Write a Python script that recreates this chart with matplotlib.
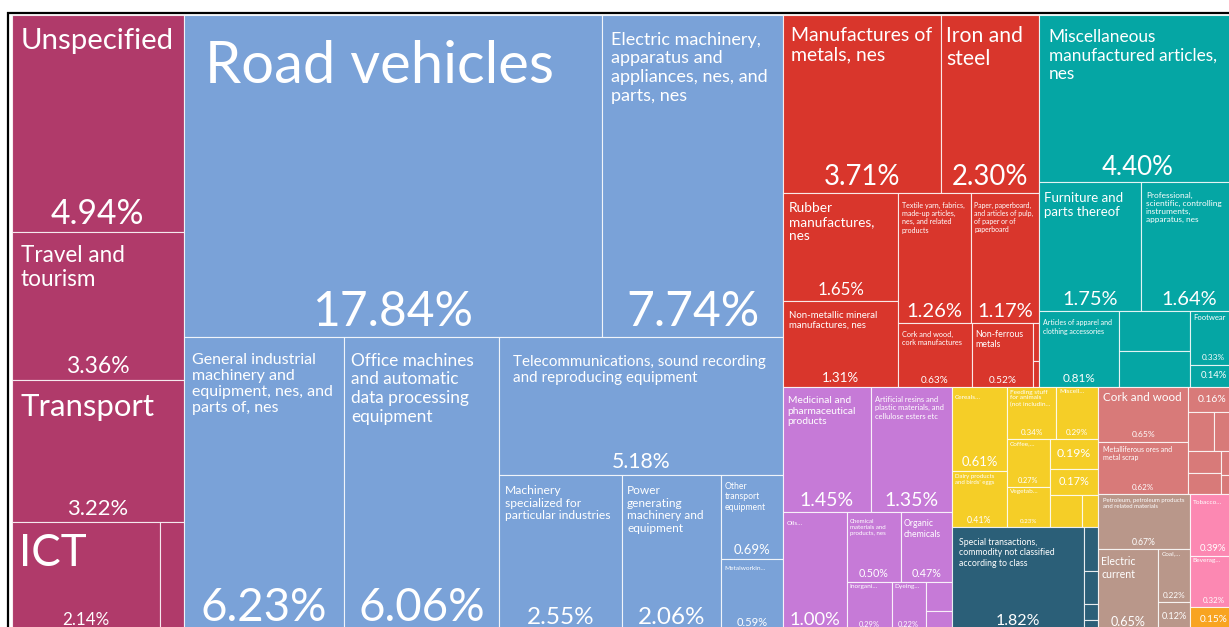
import matplotlib
matplotlib.use("Agg")
import matplotlib.pyplot as plt
from matplotlib.patches import Rectangle
from matplotlib.font_manager import FontProperties

# ---------------------
# data (share of exports, %), in display order
# None = cell drawn without any text, "" = cell shows only the share
# ---------------------
services_names = ["Unspecified", "Travel and tourism", "Transport", "ICT", None]
services_values = [4.94, 3.36, 3.22, 2.14, 0.35]

machinery_names = ["Road vehicles",
                   "Electric machinery, apparatus and appliances, nes, and parts, nes",
                   "General industrial machinery and equipment, nes, and parts of, nes",
                   "Office machines and automatic data processing equipment",
                   "Telecommunications, sound recording and reproducing equipment",
                   "Machinery specialized for particular industries",
                   "Power generating machinery and equipment",
                   "Other transport equipment",
                   "Metalworkin…"]
machinery_values = [17.84, 7.74, 6.23, 6.06, 5.18, 2.55, 2.06, 0.69, 0.59]

manuf_names = ["Manufactures of metals, nes", "Iron and steel", "Rubber manufactures, nes",
               "Non-metallic mineral manufactures, nes",
               "Textile yarn, fabrics, made-up articles, nes, and related products",
               "Paper, paperboard, and articles of pulp, of paper or of paperboard",
               "Cork and wood, cork manufactures", "Non-ferrous metals", None, None]
manuf_values = [3.71, 2.30, 1.65, 1.31, 1.26, 1.17, 0.63, 0.52, 0.03, 0.02]

misc_names = ["Miscellaneous manufactured articles, nes", "Furniture and parts thereof",
              "Professional, scientific, controlling instruments, apparatus, nes",
              "Articles of apparel and clothing accessories", None, None, "Footwear", ""]
misc_values = [4.40, 1.75, 1.64, 0.81, 0.37, 0.34, 0.33, 0.14]

chem_names = ["Medicinal and pharmaceutical products",
              "Artificial resins and plastic materials, and cellulose esters etc",
              "Oils…", "Chemical materials and products, nes", "Organic chemicals",
              "Inorgani…", "Dyeing…", None, None]
chem_values = [1.45, 1.35, 1.00, 0.50, 0.47, 0.29, 0.22, 0.10, 0.07]

food_names = ["Cereals…", "Dairy products and birds' eggs",
              "Feeding stuff for animals (not includin…", "Miscell…", "Coffee,…",
              "Vegetab…", "", "", None, None]
food_values = [0.61, 0.41, 0.34, 0.29, 0.27, 0.23, 0.19, 0.17, 0.14, 0.07]

special_names = ["Special transactions, commodity not classified according to class",
                 None, None, None, None]
special_values = [1.82, 0.08, 0.06, 0.03, 0.02]

crude_names = ["Cork and wood", "Metalliferous ores and metal scrap", "",
               None, None, None, None, None, None]
crude_values = [0.65, 0.62, 0.16, 0.13, 0.12, 0.10, 0.09, 0.05, 0.04]

fuel_names = ["Petroleum, petroleum products and related materials", "Electric current",
              "Coal,…", ""]
fuel_values = [0.67, 0.65, 0.22, 0.12]

bev_names = ["Tobacco…", "Beverag…"]
bev_values = [0.39, 0.32]

oil_names = [""]
oil_values = [0.15]

groups = [
    (services_names, services_values, "#B03A6A"),
    (machinery_names, machinery_values, "#7AA2D8"),
    (manuf_names, manuf_values, "#D9362C"),
    (misc_names, misc_values, "#05A6A4"),
    (chem_names, chem_values, "#C67AD7"),
    (food_names, food_values, "#F5CE27"),
    (special_names, special_values, "#2B5F78"),
    (crude_names, crude_values, "#D87A79"),
    (fuel_names, fuel_values, "#B9978A"),
    (bev_names, bev_values, "#FC88B2"),
    (oil_names, oil_values, "#F8A420"),
]

FONT = ["Lato", "DejaVu Sans"]
W, H, DPI = 1229, 627, 100


def squarify(values, x0, y0, x1, y1):
    # squarified treemap (same row rule as d3.treemapSquarify, ratio 1)
    rects = []
    total = float(sum(values))
    i0 = 0
    n = len(values)
    while i0 < n:
        dx, dy = x1 - x0, y1 - y0
        i1 = i0 + 1
        s = values[i0]
        vmin = vmax = s
        alpha = max(dy / dx, dx / dy) / total
        beta = s * s * alpha
        best = max(vmax / beta, beta / vmin)
        while i1 < n:
            v = values[i1]
            beta = (s + v) ** 2 * alpha
            r = max(max(vmax, v) / beta, beta / min(vmin, v))
            if r > best:
                break
            s += v
            vmin, vmax, best = min(vmin, v), max(vmax, v), r
            i1 += 1
        row = values[i0:i1]
        if dx < dy:
            yb = y0 + dy * s / total if i1 < n else y1
            xx = x0
            for v in row:
                rects.append((xx, y0, xx + dx * v / s, yb))
                xx += dx * v / s
            y0 = yb
        else:
            xb = x0 + dx * s / total if i1 < n else x1
            yy = y0
            for v in row:
                rects.append((x0, yy, xb, yy + dy * v / s))
                yy += dy * v / s
            x0 = xb
        total -= s
        i0 = i1
    return rects


fig = plt.figure(figsize=(W / DPI, H / DPI), dpi=DPI)
ax = fig.add_axes([0, 0, 1, 1])
ax.set_xlim(0, W)
ax.set_ylim(H, 0)
ax.axis("off")
renderer = fig.canvas.get_renderer()


def text_w(s, px):
    prop = FontProperties(family=FONT, size=px * 72 / DPI)
    return renderer.get_text_width_height_descent(s, prop, ismath=False)[0]


def wrap(text, px, maxw):
    lines, cur = [], ""
    for word in text.split():
        t = word if not cur else cur + " " + word
        if not cur or text_w(t, px) <= maxw:
            cur = t
        else:
            lines.append(cur)
            cur = word
    lines.append(cur)
    return lines


def put(x, y, s, px, **kw):
    ax.text(x, y, s, color="white", fontsize=px * 72 / DPI, family=FONT,
            linespacing=1.2, **kw)


def label_cell(name, value, x0, y0, x1, y1):
    w, h = x1 - x0, y1 - y0
    pct = f"{value:.2f}%"
    if name is None:
        return
    if name == "":
        px = min(0.42 * h, 50)
        px = min(px, px * (w - 6) / text_w(pct, px))
        if px >= 5:
            put((x0 + x1) / 2, (y0 + y1) / 2, pct, px, ha="center", va="center")
        return
    # share at the bottom
    spx = min(0.155 * h, 48)
    spx = min(spx, spx * (w - 8) / text_w(pct, spx))
    put((x0 + x1) / 2, y1 - (3 + 0.025 * h), pct, spx, ha="center", va="baseline")
    # name at the top left, wrapped to the visible width
    padx = min(max(0.05 * w, 3), 24)
    pady = min(max(0.05 * w, 0.04 * h, 2) + (4 if h > 60 else 0), 28)
    maxw = min(w, W - x0) - 2 * padx
    maxh = h - 1.3 * spx - 2 * pady - 3
    fmin = 6.5
    if name.endswith("…"):
        px = fmin
    else:
        px = min(58, 0.6 * (w * h / len(name)) ** 0.5)
    while True:
        lines = wrap(name, px, maxw)
        fits = len(lines) * 1.2 * px <= maxh and max(text_w(t, px) for t in lines) <= maxw
        if fits or px <= fmin:
            break
        px = max(fmin, px - 0.5)
    if not fits:
        keep = int(maxh // (1.2 * px))
        if keep < 1:
            return
        if keep < len(lines):
            lines = lines[:keep]
            lines[-1] = lines[-1] + "…"
    put(x0 + padx, y0 + pady, "\n".join(lines), px, ha="left", va="top")


group_rects = squarify([sum(g[1]) for g in groups], 12, 15, 1237, 631)
for (names, vals, color), (gx0, gy0, gx1, gy1) in zip(groups, group_rects):
    cells = squarify(vals, gx0, gy0, gx1, gy1)
    for name, v, (x0, y0, x1, y1) in zip(names, vals, cells):
        ax.add_patch(Rectangle((x0, y0), x1 - x0, y1 - y0, facecolor=color,
                               edgecolor=(1, 1, 1, 0.8), linewidth=0.8))
        label_cell(name, v, x0, y0, x1, y1)

# frame
ax.plot([7, W], [12.5, 12.5], color="black", lw=1.6, solid_capstyle="butt")
ax.plot([8.3, 8.3], [12, H], color="black", lw=1.6, solid_capstyle="butt")

fig.savefig("out.png", dpi=DPI)
